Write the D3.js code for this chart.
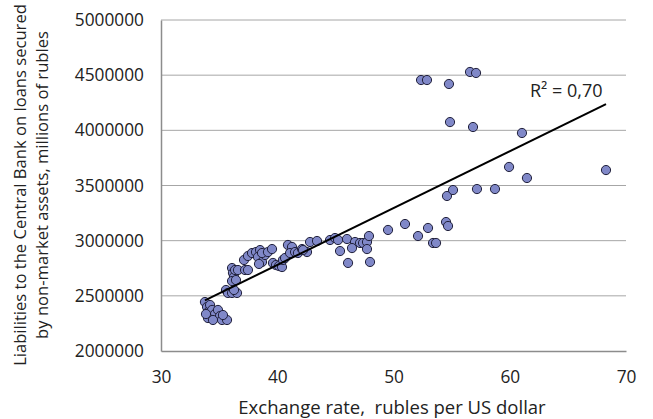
<!DOCTYPE html>
<html>
<head>
<meta charset="utf-8">
<script src="https://cdn.jsdelivr.net/npm/d3@7"></script>
<style>
  body { margin: 0; background: #fff; }
  text { font-family: "Open Sans", sans-serif; fill: #222; }
</style>
</head>
<body>
<svg id="chart"></svg>
<script>
// exchange rate, rubles per US dollar
const rates = [
  33.78, 33.96, 34.04, 34.22, 34.39, 34.65, 34.90, 35.08, 34.04, 34.47, 35.25, 35.68, 35.33, 33.87,
  35.59, 35.76, 36.11, 36.54, 36.28,
  36.11, 36.19, 36.28, 36.11, 36.37, 36.62, 36.45, 37.23, 37.48,
  37.14, 37.48, 37.83, 38.17, 38.52, 38.34, 38.69, 38.43, 38.95, 38.69, 39.20, 39.55,
  39.63, 39.89, 40.15, 40.41, 40.49, 40.67, 40.92, 41.27, 41.10, 41.53, 41.78, 42.13, 42.56, 42.82, 43.42, 42.22,
  44.54, 44.97, 45.23, 46.00, 46.69, 47.12, 47.38, 47.72, 47.89, 47.72, 46.43, 45.40, 46.09, 47.98,
  49.53, 50.99, 52.11, 52.97, 54.52, 54.69, 53.40, 53.66, 54.60, 55.12, 57.18, 58.73, 59.94, 61.48, 68.28,
  54.86, 56.84, 61.05, 52.37, 52.88, 54.77, 56.58, 57.10
];
// liabilities to the Central Bank, millions of rubles
const liabilities = [
  2444000, 2399000, 2353000, 2417000, 2372000, 2335000, 2372000, 2317000, 2299000, 2281000, 2281000, 2281000, 2326000, 2335000,
  2553000, 2526000, 2526000, 2526000, 2553000,
  2752000, 2707000, 2671000, 2634000, 2734000, 2734000, 2643000, 2734000, 2734000,
  2825000, 2861000, 2888000, 2897000, 2915000, 2852000, 2807000, 2789000, 2870000, 2888000, 2897000, 2924000,
  2798000, 2779000, 2770000, 2761000, 2825000, 2843000, 2961000, 2943000, 2888000, 2897000, 2888000, 2924000, 2897000, 2988000, 2997000, 2915000,
  3006000, 3024000, 3006000, 3015000, 2988000, 2979000, 2979000, 2988000, 3042000, 2924000, 2933000, 2906000, 2798000, 2807000,
  3097000, 3151000, 3042000, 3115000, 3169000, 3133000, 2979000, 2979000, 3405000, 3459000, 3468000, 3468000, 3668000, 3568000, 3640000,
  4075000, 4030000, 3976000, 4456000, 4456000, 4420000, 4529000, 4520000
];
const xTicks = [30, 40, 50, 60, 70];
const yTicks = [2000000, 2500000, 3000000, 3500000, 4000000, 4500000, 5000000];
const r2Label = "R² = 0,70";

const data = rates.map(function(r, i) { return { x: r, y: liabilities[i] }; });

const W = 653, H = 419;
const margin = { top: 20, right: 27, bottom: 68, left: 161 };
const width = W - margin.left - margin.right;
const height = H - margin.top - margin.bottom;

const svg = d3.select("#chart").attr("width", W).attr("height", H);
const g = svg.append("g").attr("transform", "translate(" + margin.left + "," + margin.top + ")");

const x = d3.scaleLinear().domain([30, 70]).range([0, width]);
const y = d3.scaleLinear().domain([2000000, 5000000]).range([height, 0]);

// horizontal gridlines
g.selectAll(".grid")
  .data(yTicks.slice(1))
  .enter().append("line")
  .attr("x1", 0).attr("x2", width)
  .attr("y1", function(d) { return y(d); })
  .attr("y2", function(d) { return y(d); })
  .attr("stroke", "#a6a6a6")
  .attr("stroke-width", 1);

// axes
const yAxis = g.append("g")
  .call(d3.axisLeft(y).tickValues(yTicks).tickFormat(d3.format("d")).tickSize(0).tickPadding(17));
yAxis.select(".domain").attr("stroke", "#8c8c8c").attr("stroke-width", 1.5);
yAxis.selectAll("text").style("font-size", "17.3px");

const xAxis = g.append("g")
  .attr("transform", "translate(0," + height + ")")
  .call(d3.axisBottom(x).tickValues(xTicks).tickSize(0).tickPadding(20));
xAxis.select(".domain").attr("stroke", "#8c8c8c").attr("stroke-width", 1.5);
xAxis.selectAll("text").style("font-size", "17.3px");

// points
g.selectAll(".dot")
  .data(data)
  .enter().append("circle")
  .attr("class", "dot")
  .attr("cx", function(d) { return x(d.x); })
  .attr("cy", function(d) { return y(d.y); })
  .attr("r", 4.6)
  .attr("fill", "#8088c8")
  .attr("stroke", "#1f1f3a")
  .attr("stroke-width", 1);

// linear trendline (least squares)
const mx = d3.mean(data, function(d) { return d.x; });
const my = d3.mean(data, function(d) { return d.y; });
const slope = d3.sum(data, function(d) { return (d.x - mx) * (d.y - my); }) /
              d3.sum(data, function(d) { return (d.x - mx) * (d.x - mx); });
const intercept = my - slope * mx;
const xr = d3.extent(data, function(d) { return d.x; });

g.append("line")
  .attr("x1", x(xr[0])).attr("y1", y(intercept + slope * xr[0]))
  .attr("x2", x(xr[1])).attr("y2", y(intercept + slope * xr[1]))
  .attr("stroke", "#000")
  .attr("stroke-width", 2);

g.append("text")
  .attr("x", x(xr[1]) - 76)
  .attr("y", y(intercept + slope * xr[1]) - 7)
  .style("font-size", "18px")
  .text(r2Label);

// axis titles
svg.append("text")
  .attr("x", 392)
  .attr("y", 414)
  .attr("text-anchor", "middle")
  .style("font-size", "18.5px")
  .style("white-space", "pre")
  .text("Exchange rate,  rubles per US dollar");

const yTitle = svg.append("text")
  .attr("transform", "translate(26,185) rotate(-90)")
  .attr("text-anchor", "middle")
  .style("font-size", "16.6px");
yTitle.append("tspan").attr("x", 0).attr("dy", 0).text("Liabilities to the Central Bank on loans secured");
yTitle.append("tspan").attr("x", 0).attr("dy", 22).text("by non-market assets, millions of rubles");
</script>
</body>
</html>
